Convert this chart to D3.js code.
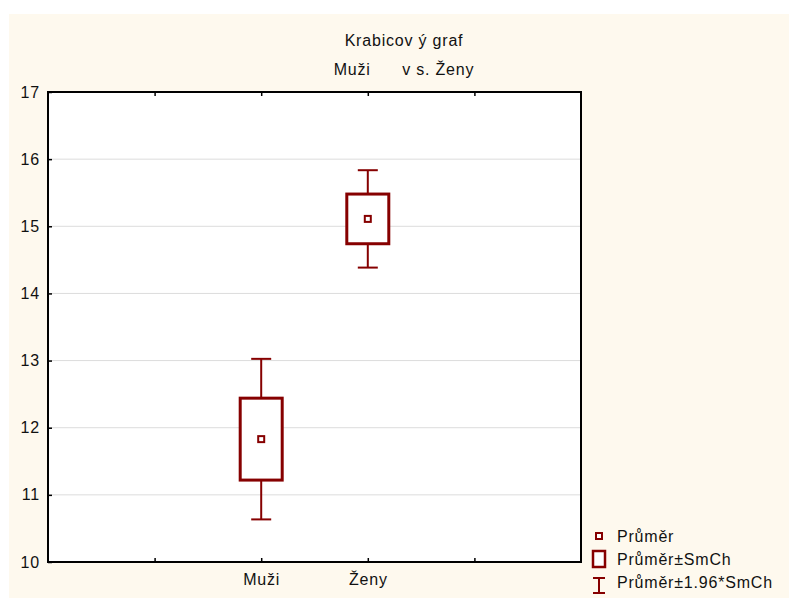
<!DOCTYPE html>
<html>
<head>
<meta charset="utf-8">
<script src="https://cdn.jsdelivr.net/npm/d3@7"></script>
<style>
  html, body { margin: 0; padding: 0; background: #ffffff; }
  svg { display: block; font-family: "Liberation Sans", Arial, sans-serif; }
</style>
</head>
<body>
<svg id="chart" width="789" height="598"></svg>
<script>
// Group names, means and standard errors
const categories = ["Muži", "Ženy"];
const means = [11.83, 15.11];
const stdErrors = [0.61, 0.37];
const yTicks = [10, 11, 12, 13, 14, 15, 16, 17];
const titleLines = ["Krabicov ý graf", "Muži      v s. Ženy"];
const legendLabels = ["Průměr", "Průměr±SmCh", "Průměr±1.96*SmCh"];

const color = "#860000";
const fontSize = 16;
const spacing = 0.8;
const svg = d3.select("#chart");

// cream backdrop
svg.append("rect").attr("x", 9).attr("y", 14).attr("width", 780).attr("height", 584)
  .attr("fill", "#fef9ee");

const plot = { left: 48, top: 92, right: 581, bottom: 562 };

// five slots along x: categories sit at positions 2 and 3
const x = d3.scaleLinear().domain([0, 5]).range([plot.left, plot.right]);
const y = d3.scaleLinear().domain([10, 17]).range([plot.bottom, plot.top]);
const catPos = categories.map((c, i) => i + 2);

svg.append("rect").attr("x", plot.left).attr("y", plot.top)
  .attr("width", plot.right - plot.left).attr("height", plot.bottom - plot.top)
  .attr("fill", "#ffffff");

// horizontal gridlines
svg.append("g").selectAll("line").data(yTicks.slice(1, -1)).join("line")
  .attr("x1", plot.left).attr("x2", plot.right)
  .attr("y1", d => y(d)).attr("y2", d => y(d))
  .attr("stroke", "#dcdcdc").attr("stroke-width", 1);

function styleText(sel) {
  sel.attr("font-size", fontSize).attr("fill", "#111")
    .attr("font-family", "Liberation Sans, Arial, sans-serif")
    .attr("letter-spacing", spacing);
}

// left axis with inward ticks
const yAxis = svg.append("g").attr("transform", `translate(${plot.left},0)`)
  .call(d3.axisLeft(y).tickValues(yTicks).tickSize(-4).tickPadding(8).tickFormat(d3.format("d")));
yAxis.select(".domain").remove();
yAxis.selectAll("line").attr("stroke", "#000").attr("stroke-width", 1.5);
yAxis.selectAll("text").call(styleText);

// bottom axis ticks (inward) and category labels
const xTickPos = [1, 2, 3, 4];
const xAxis = svg.append("g").attr("transform", `translate(0,${plot.bottom})`)
  .call(d3.axisBottom(x).tickValues(xTickPos).tickSize(-4).tickPadding(12)
    .tickFormat(d => { const i = catPos.indexOf(d); return i >= 0 ? categories[i] : ""; }));
xAxis.select(".domain").remove();
xAxis.selectAll("line").attr("stroke", "#000").attr("stroke-width", 1.5);
xAxis.selectAll("text").call(styleText);

// top axis ticks (inward)
const xTop = svg.append("g").attr("transform", `translate(0,${plot.top})`)
  .call(d3.axisTop(x).tickValues(xTickPos).tickSize(-4).tickFormat(""));
xTop.select(".domain").remove();
xTop.selectAll("line").attr("stroke", "#000").attr("stroke-width", 1.5);

// frame
svg.append("rect").attr("x", plot.left).attr("y", plot.top)
  .attr("width", plot.right - plot.left).attr("height", plot.bottom - plot.top)
  .attr("fill", "none").attr("stroke", "#000").attr("stroke-width", 2);

// boxes and whiskers
const boxW = 42, capW = 20;
const groups = svg.append("g").selectAll("g").data(categories.map((c, i) => ({
  pos: catPos[i], mean: means[i], se: stdErrors[i]
}))).join("g");

groups.append("line")
  .attr("x1", d => x(d.pos)).attr("x2", d => x(d.pos))
  .attr("y1", d => y(d.mean + 1.96 * d.se)).attr("y2", d => y(d.mean + d.se))
  .attr("stroke", color).attr("stroke-width", 2);
groups.append("line")
  .attr("x1", d => x(d.pos)).attr("x2", d => x(d.pos))
  .attr("y1", d => y(d.mean - d.se)).attr("y2", d => y(d.mean - 1.96 * d.se))
  .attr("stroke", color).attr("stroke-width", 2);
groups.append("line")
  .attr("x1", d => x(d.pos) - capW / 2).attr("x2", d => x(d.pos) + capW / 2)
  .attr("y1", d => y(d.mean + 1.96 * d.se)).attr("y2", d => y(d.mean + 1.96 * d.se))
  .attr("stroke", color).attr("stroke-width", 2);
groups.append("line")
  .attr("x1", d => x(d.pos) - capW / 2).attr("x2", d => x(d.pos) + capW / 2)
  .attr("y1", d => y(d.mean - 1.96 * d.se)).attr("y2", d => y(d.mean - 1.96 * d.se))
  .attr("stroke", color).attr("stroke-width", 2);
groups.append("rect")
  .attr("x", d => x(d.pos) - boxW / 2).attr("width", boxW)
  .attr("y", d => y(d.mean + d.se)).attr("height", d => y(d.mean - d.se) - y(d.mean + d.se))
  .attr("fill", "#fff").attr("stroke", color).attr("stroke-width", 3);
groups.append("rect")
  .attr("x", d => x(d.pos) - 3).attr("y", d => y(d.mean) - 3)
  .attr("width", 6).attr("height", 6)
  .attr("fill", "#fff").attr("stroke", color).attr("stroke-width", 2);

// title
svg.append("g").selectAll("text").data(titleLines).join("text")
  .attr("x", 404).attr("y", (d, i) => 46 + i * 29)
  .attr("text-anchor", "middle")
  .attr("xml:space", "preserve").style("white-space", "pre")
  .call(styleText)
  .text(d => d);

// legend
const legend = svg.append("g");
const ly = [536, 559, 582];
legend.append("rect").attr("x", 596).attr("y", ly[0] - 3).attr("width", 6).attr("height", 6)
  .attr("fill", "#fff").attr("stroke", color).attr("stroke-width", 2);
legend.append("rect").attr("x", 593).attr("y", ly[1] - 8).attr("width", 12).attr("height", 16)
  .attr("fill", "#fff").attr("stroke", color).attr("stroke-width", 2.5);
legend.append("path")
  .attr("d", `M593,${ly[2] - 4}H605M599,${ly[2] - 4}V${ly[2] + 11}M593,${ly[2] + 11}H605`)
  .attr("fill", "none").attr("stroke", color).attr("stroke-width", 2);
legend.selectAll("text").data(legendLabels).join("text")
  .attr("x", 617).attr("y", (d, i) => ly[i] + 6)
  .call(styleText)
  .text(d => d);
</script>
</body>
</html>
